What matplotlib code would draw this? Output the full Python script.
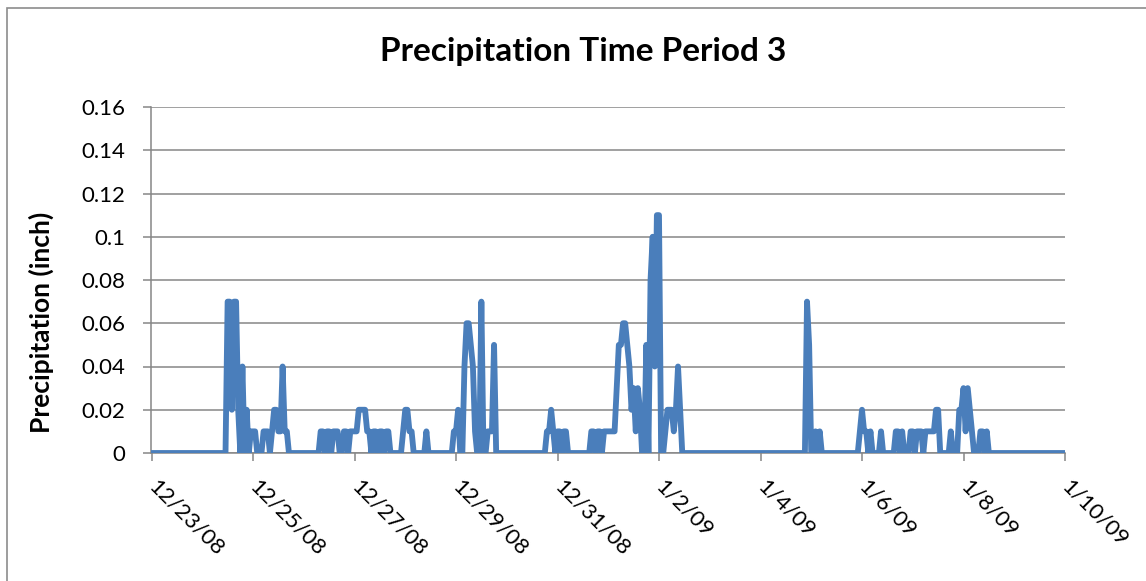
import pandas as pd
import matplotlib
matplotlib.use("Agg")
import matplotlib.pyplot as plt
import matplotlib.dates as mdates
from matplotlib.patches import Rectangle

# hourly precipitation readings (inch); dry spells are marked by the bracketing zeros
times = [
    "2008-12-23 00:00", "2008-12-24 11:00", "2008-12-24 12:00", "2008-12-24 13:00",
    "2008-12-24 14:00", "2008-12-24 15:00", "2008-12-24 16:00", "2008-12-24 17:00",
    "2008-12-24 18:00", "2008-12-24 19:00", "2008-12-24 20:00", "2008-12-24 21:00",
    "2008-12-24 22:00", "2008-12-24 23:00", "2008-12-25 00:00", "2008-12-25 01:00",
    "2008-12-25 02:00", "2008-12-25 04:00", "2008-12-25 05:00", "2008-12-25 06:00",
    "2008-12-25 07:00", "2008-12-25 08:00", "2008-12-25 09:00", "2008-12-25 10:00",
    "2008-12-25 11:00", "2008-12-25 12:00", "2008-12-25 13:00", "2008-12-25 14:00",
    "2008-12-25 15:00", "2008-12-25 16:00", "2008-12-25 17:00",
    "2008-12-26 07:00", "2008-12-26 08:00", "2008-12-26 09:00", "2008-12-26 10:00",
    "2008-12-26 11:00", "2008-12-26 12:00", "2008-12-26 13:00", "2008-12-26 14:00",
    "2008-12-26 15:00", "2008-12-26 16:00", "2008-12-26 17:00", "2008-12-26 18:00",
    "2008-12-26 19:00", "2008-12-26 20:00", "2008-12-26 21:00", "2008-12-26 22:00",
    "2008-12-26 23:00", "2008-12-27 00:00", "2008-12-27 01:00", "2008-12-27 02:00",
    "2008-12-27 03:00", "2008-12-27 04:00", "2008-12-27 05:00", "2008-12-27 06:00",
    "2008-12-27 07:00", "2008-12-27 08:00", "2008-12-27 09:00", "2008-12-27 10:00",
    "2008-12-27 11:00", "2008-12-27 12:00", "2008-12-27 13:00", "2008-12-27 14:00",
    "2008-12-27 15:00", "2008-12-27 16:00", "2008-12-27 17:00",
    "2008-12-27 22:00", "2008-12-27 23:00", "2008-12-28 00:00", "2008-12-28 01:00",
    "2008-12-28 02:00", "2008-12-28 03:00", "2008-12-28 04:00",
    "2008-12-28 09:00", "2008-12-28 10:00", "2008-12-28 11:00",
    "2008-12-28 22:00", "2008-12-28 23:00", "2008-12-29 00:00", "2008-12-29 01:00",
    "2008-12-29 02:00", "2008-12-29 03:00", "2008-12-29 04:00", "2008-12-29 05:00",
    "2008-12-29 06:00", "2008-12-29 07:00", "2008-12-29 08:00", "2008-12-29 09:00",
    "2008-12-29 10:00", "2008-12-29 11:00", "2008-12-29 12:00", "2008-12-29 13:00",
    "2008-12-29 14:00", "2008-12-29 15:00", "2008-12-29 16:00", "2008-12-29 17:00",
    "2008-12-29 18:00", "2008-12-29 19:00",
    "2008-12-30 18:00", "2008-12-30 19:00", "2008-12-30 20:00", "2008-12-30 21:00",
    "2008-12-30 22:00", "2008-12-30 23:00", "2008-12-31 00:00", "2008-12-31 01:00",
    "2008-12-31 02:00", "2008-12-31 03:00", "2008-12-31 04:00", "2008-12-31 05:00",
    "2008-12-31 15:00", "2008-12-31 16:00", "2008-12-31 17:00", "2008-12-31 18:00",
    "2008-12-31 19:00", "2008-12-31 20:00", "2008-12-31 21:00", "2008-12-31 22:00",
    "2008-12-31 23:00", "2009-01-01 00:00", "2009-01-01 01:00", "2009-01-01 02:00",
    "2009-01-01 03:00", "2009-01-01 04:00", "2009-01-01 05:00", "2009-01-01 06:00",
    "2009-01-01 07:00", "2009-01-01 08:00", "2009-01-01 09:00", "2009-01-01 10:00",
    "2009-01-01 11:00", "2009-01-01 12:00", "2009-01-01 13:00", "2009-01-01 14:00",
    "2009-01-01 15:00", "2009-01-01 16:00", "2009-01-01 17:00", "2009-01-01 18:00",
    "2009-01-01 19:00", "2009-01-01 20:00", "2009-01-01 21:00", "2009-01-01 22:00",
    "2009-01-01 23:00", "2009-01-02 00:00", "2009-01-02 01:00", "2009-01-02 02:00",
    "2009-01-02 03:00", "2009-01-02 04:00", "2009-01-02 05:00", "2009-01-02 06:00",
    "2009-01-02 07:00", "2009-01-02 08:00", "2009-01-02 09:00", "2009-01-02 10:00",
    "2009-01-02 11:00",
    "2009-01-04 21:00", "2009-01-04 22:00", "2009-01-04 23:00", "2009-01-05 00:00",
    "2009-01-05 01:00", "2009-01-05 02:00", "2009-01-05 03:00", "2009-01-05 04:00",
    "2009-01-05 05:00",
    "2009-01-05 22:00", "2009-01-05 23:00", "2009-01-06 00:00", "2009-01-06 01:00",
    "2009-01-06 02:00", "2009-01-06 03:00", "2009-01-06 04:00", "2009-01-06 05:00",
    "2009-01-06 08:00", "2009-01-06 09:00", "2009-01-06 10:00",
    "2009-01-06 15:00", "2009-01-06 16:00", "2009-01-06 17:00", "2009-01-06 18:00",
    "2009-01-06 19:00", "2009-01-06 20:00",
    "2009-01-06 22:00", "2009-01-06 23:00", "2009-01-07 00:00", "2009-01-07 01:00",
    "2009-01-07 02:00", "2009-01-07 03:00", "2009-01-07 04:00", "2009-01-07 05:00",
    "2009-01-07 06:00", "2009-01-07 07:00", "2009-01-07 08:00", "2009-01-07 09:00",
    "2009-01-07 10:00", "2009-01-07 11:00", "2009-01-07 12:00", "2009-01-07 13:00",
    "2009-01-07 17:00", "2009-01-07 18:00", "2009-01-07 19:00",
    "2009-01-07 21:00", "2009-01-07 22:00", "2009-01-07 23:00", "2009-01-08 00:00",
    "2009-01-08 01:00", "2009-01-08 02:00", "2009-01-08 03:00", "2009-01-08 04:00",
    "2009-01-08 05:00",
    "2009-01-08 07:00", "2009-01-08 08:00", "2009-01-08 09:00", "2009-01-08 10:00",
    "2009-01-08 11:00", "2009-01-08 12:00",
    "2009-01-10 00:00",
]
precip = [
    0, 0, 0.07, 0.07,
    0.02, 0.07, 0.07, 0.02,
    0, 0.04, 0, 0.02,
    0, 0.01, 0.01, 0.01,
    0, 0, 0.01, 0.01,
    0.01, 0, 0.01, 0.02,
    0.02, 0.01, 0.01, 0.04,
    0.01, 0.01, 0,
    0, 0.01, 0.01, 0,
    0.01, 0.01, 0, 0.01,
    0.01, 0.01, 0, 0,
    0.01, 0.01, 0, 0.01,
    0.01, 0.01, 0.01, 0.02,
    0.02, 0.02, 0.02, 0.01,
    0.01, 0, 0.01, 0.01,
    0, 0.01, 0.01, 0,
    0.01, 0.01, 0,
    0, 0.01, 0.02, 0.02,
    0.01, 0.01, 0,
    0, 0.01, 0,
    0, 0.01, 0.01, 0.02,
    0, 0, 0.04, 0.06,
    0.06, 0.05, 0.04, 0.01,
    0, 0, 0.07, 0,
    0, 0.01, 0.01, 0.01,
    0.05, 0,
    0, 0.01, 0.01, 0.02,
    0.01, 0, 0.01, 0.01,
    0, 0.01, 0.01, 0,
    0, 0.01, 0.01, 0,
    0.01, 0.01, 0, 0.01,
    0.01, 0.01, 0.01, 0.01,
    0.01, 0.03, 0.05, 0.05,
    0.06, 0.06, 0.05, 0.04,
    0.02, 0.03, 0.01, 0.03,
    0.02, 0, 0, 0.05,
    0, 0.08, 0.10, 0.04,
    0.11, 0.11, 0, 0,
    0.01, 0.02, 0.02, 0.02,
    0.01, 0.02, 0.04, 0.02,
    0,
    0, 0.07, 0.05, 0,
    0, 0.01, 0, 0.01,
    0,
    0, 0.01, 0.02, 0.01,
    0.01, 0, 0.01, 0,
    0, 0.01, 0,
    0, 0.01, 0.01, 0,
    0.01, 0,
    0, 0.01, 0.01, 0,
    0.01, 0.01, 0.01, 0,
    0.01, 0.01, 0.01, 0.01,
    0.01, 0.02, 0.02, 0,
    0, 0.01, 0,
    0, 0.02, 0.02, 0.03,
    0.01, 0.03, 0.02, 0.01,
    0,
    0, 0.01, 0.01, 0,
    0.01, 0,
    0,
]
x_ticks = ["2008-12-23", "2008-12-25", "2008-12-27", "2008-12-29", "2008-12-31",
           "2009-01-02", "2009-01-04", "2009-01-06", "2009-01-08", "2009-01-10"]
y_ticks = [0, 0.02, 0.04, 0.06, 0.08, 0.1, 0.12, 0.14, 0.16]

W, H = 1146, 581
FONT = "Lato"
GRID = "#868686"

t = pd.to_datetime(times)
fig = plt.figure(figsize=(W / 100, H / 100), dpi=100)
fig.patches.append(Rectangle((7 / W, -0.1), 1.2, 1 - 8 / H + 0.1, transform=fig.transFigure,
                             fill=False, edgecolor="#8c8c8c", linewidth=1.2))

ax = fig.add_axes([151.5 / W, 1 - 453 / H, (1065 - 151.5) / W, (453 - 107) / H])
ax.plot(t, precip, color="#4a7ebb", linewidth=4.2, solid_joinstyle="round",
        solid_capstyle="round", zorder=3)

ax.set_xlim(pd.Timestamp(x_ticks[0]), pd.Timestamp(x_ticks[-1]))
ax.set_ylim(0, 0.16)
ax.set_yticks(y_ticks)
ax.set_yticklabels(["0" if v == 0 else f"{v:g}" for v in y_ticks], fontsize=16, family=FONT)
ax.set_xticks(pd.to_datetime(x_ticks))
ax.xaxis.set_major_formatter(mdates.DateFormatter("%-m/%-d/%y"))
for lab in ax.get_xticklabels():
    lab.set_family(FONT)
    lab.set_fontsize(16)
    lab.set_rotation(-45)
    lab.set_rotation_mode("anchor")
    lab.set_ha("left")
    lab.set_va("center")

ax.grid(axis="y", color=GRID, linewidth=1.1, zorder=0)
for side in ["top", "right"]:
    ax.spines[side].set_visible(False)
for side in ["left", "bottom"]:
    ax.spines[side].set_color(GRID)
    ax.spines[side].set_linewidth(1.1)
ax.tick_params(axis="y", length=6, width=1.1, color=GRID, pad=13)
ax.tick_params(axis="x", length=6, width=1.1, color=GRID, pad=16)

fig.text(583 / W, 1 - 52 / H, "Precipitation Time Period 3", ha="center", va="center",
         fontsize=24, fontweight="bold", family=FONT)
fig.text(41.7 / W, 1 - 322 / H, "Precipitation (inch)", ha="center", va="center",
         rotation=90, fontsize=19, fontweight="bold", family=FONT)

fig.savefig("out.png", dpi=100)
